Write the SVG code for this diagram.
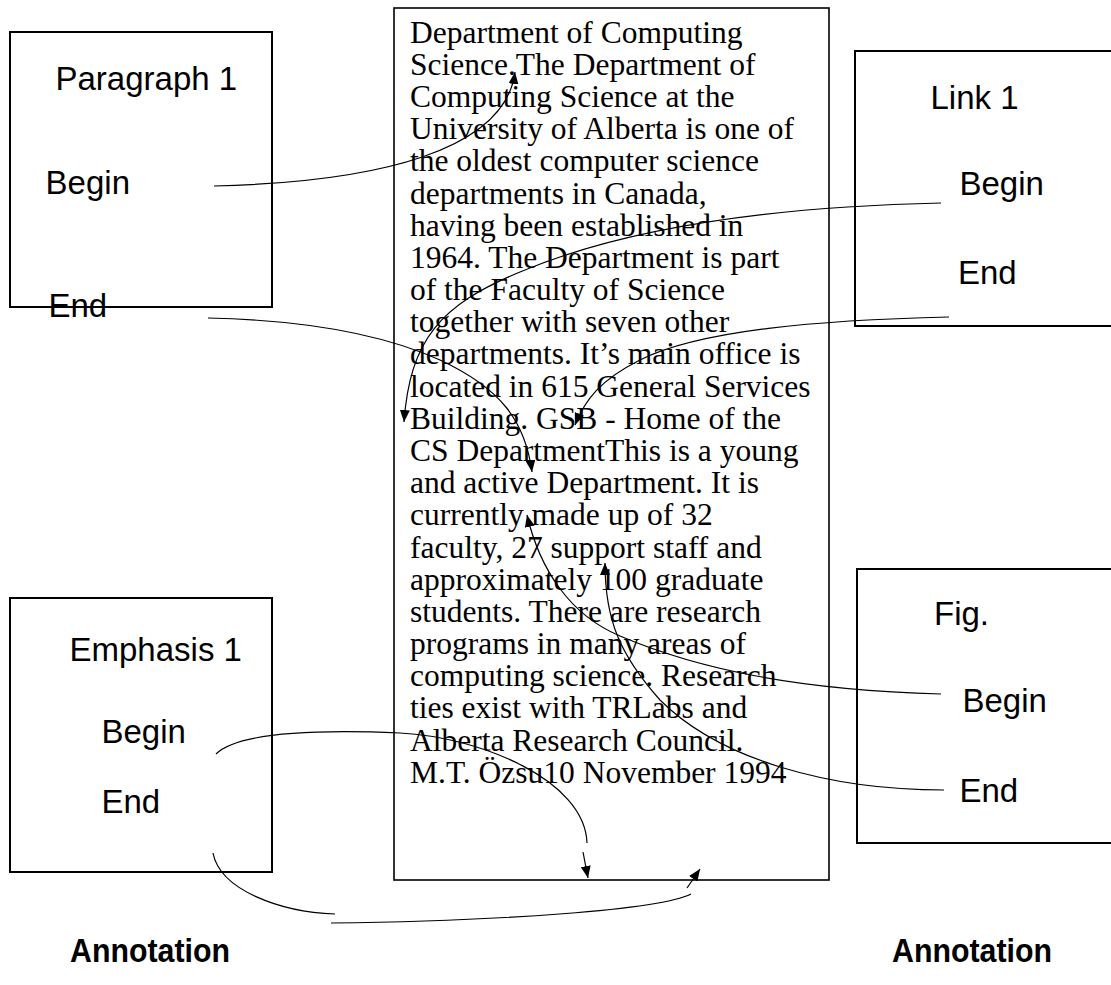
<svg xmlns="http://www.w3.org/2000/svg" width="1111" height="985" viewBox="0 0 1111 985">
<style>
.box{fill:none;stroke:#000;stroke-width:2}
.lbl{font-family:"Liberation Sans",Arial,sans-serif;font-size:33px;fill:#000}
.doc{font-family:"Liberation Serif","Times New Roman",serif;font-size:31.5px;fill:#000}
.ann{font-family:"Liberation Sans",Arial,sans-serif;font-size:34px;font-weight:bold;fill:#000}
.c{fill:none;stroke:#000;stroke-width:1.2}
.a{marker-end:url(#ah)}
</style>
<defs>
<marker id="ah" markerWidth="12" markerHeight="10" refX="12" refY="5" orient="auto" markerUnits="userSpaceOnUse">
<path d="M0,0 L12,5 L0,10 z" fill="#000"/>
</marker>
</defs>
<rect width="1111" height="985" fill="#fff"/>

<g id="document">
<rect x="394" y="8" width="435" height="872" fill="none" stroke="#000" stroke-width="1.6"/>
<text class="doc" x="410" y="42.8">
<tspan x="410" y="42.8">Department of Computing</tspan>
<tspan x="410" dy="32.17">Science.The Department of</tspan>
<tspan x="410" dy="32.17">Computing Science at the</tspan>
<tspan x="410" dy="32.17">University of Alberta is one of</tspan>
<tspan x="410" dy="32.17">the oldest computer science</tspan>
<tspan x="410" dy="32.17">departments in Canada,</tspan>
<tspan x="410" dy="32.17">having been established in</tspan>
<tspan x="410" dy="32.17">1964. The Department is part</tspan>
<tspan x="410" dy="32.17">of the Faculty of Science</tspan>
<tspan x="410" dy="32.17">together with seven other</tspan>
<tspan x="410" dy="32.17">departments. It’s main office is</tspan>
<tspan x="410" dy="32.17">located in 615 General Services</tspan>
<tspan x="410" dy="32.17">Building. GSB - Home of the</tspan>
<tspan x="410" dy="32.17">CS DepartmentThis is a young</tspan>
<tspan x="410" dy="32.17">and active Department. It is</tspan>
<tspan x="410" dy="32.17">currently made up of 32</tspan>
<tspan x="410" dy="32.17">faculty, 27 support staff and</tspan>
<tspan x="410" dy="32.17">approximately 100 graduate</tspan>
<tspan x="410" dy="32.17">students. There are research</tspan>
<tspan x="410" dy="32.17">programs in many areas of</tspan>
<tspan x="410" dy="32.17">computing science. Research</tspan>
<tspan x="410" dy="32.17">ties exist with TRLabs and</tspan>
<tspan x="410" dy="32.17">Alberta Research Council.</tspan>
<tspan x="410" dy="32.17">M.T. Özsu10 November 1994</tspan>
</text>
</g>

<g id="paragraph1">
<rect class="box" x="10" y="32" width="262" height="275"/>
<text class="lbl" x="55.5" y="90">Paragraph 1</text>
<text class="lbl" x="45.6" y="194">Begin</text>
<text class="lbl" x="48.5" y="317">End</text>
</g>

<g id="link1">
<rect class="box" x="855" y="51" width="270" height="275"/>
<text class="lbl" x="930.5" y="109">Link 1</text>
<text class="lbl" x="959.5" y="195">Begin</text>
<text class="lbl" x="958" y="284">End</text>
</g>

<g id="fig">
<rect class="box" x="857" y="569" width="270" height="274"/>
<text class="lbl" x="934" y="625">Fig.</text>
<text class="lbl" x="962.5" y="712">Begin</text>
<text class="lbl" x="959.5" y="802">End</text>
</g>

<g id="emphasis1">
<rect class="box" x="10" y="598" width="262" height="274"/>
<text class="lbl" x="69.5" y="661">Emphasis 1</text>
<text class="lbl" x="101.5" y="743">Begin</text>
<text class="lbl" x="101.5" y="813">End</text>
</g>

<g id="annotation-left">
<text class="ann" x="70" y="962" textLength="160" lengthAdjust="spacingAndGlyphs">Annotation</text>
</g>
<g id="annotation-right">
<text class="ann" x="892" y="962" textLength="160" lengthAdjust="spacingAndGlyphs">Annotation</text>
</g>

<g id="connectors">
<path class="c a" d="M214,186 C380,182 505,150 515,72"/>
<path class="c a" d="M208,318 C300,320 380,333 440,360 C500,388 525,420 532,472"/>
<path class="c a" d="M941,203 C760,207 620,230 520,272 C440,305 410,340 404,422"/>
<path class="c a" d="M949,317 C820,320 700,330 640,360 C600,380 585,400 575,425"/>
<path class="c a" d="M941,694 C800,690 700,670 620,636 C570,615 540,570 527,515"/>
<path class="c a" d="M944,790 C830,790 720,760 660,700 C620,655 605,620 605,563"/>
<path class="c" d="M216,754 C240,730 330,730 400,733 C480,737 585,780 587,843"/>
<path class="c a" d="M583,852 L588,878"/>
<path class="c" d="M213,853 C220,890 280,912 335,914"/>
<path class="c" d="M331,923 C500,921 660,910 691,894"/>
<path class="c a" d="M687,888 L700,869"/>
</g>
</svg>
